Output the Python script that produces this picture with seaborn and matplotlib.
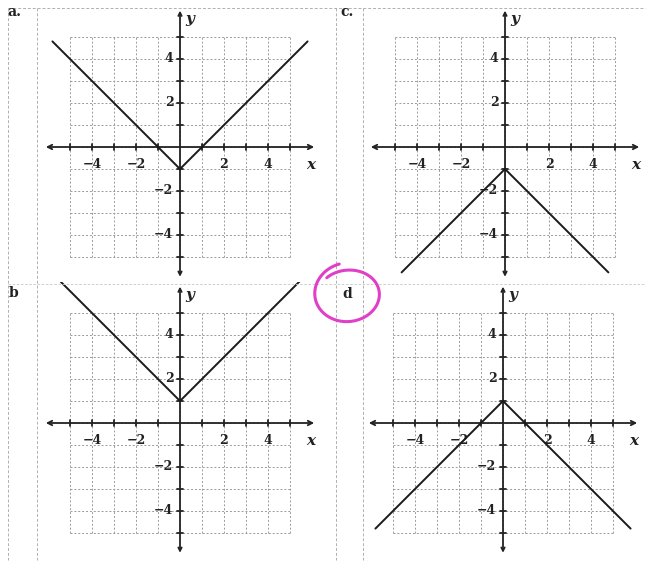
import matplotlib
matplotlib.use("Agg")
import matplotlib.pyplot as plt
import numpy as np
import pandas as pd
import seaborn as sns

sns.set_theme(style="white")
plt.rcParams['font.family'] = ['DejaVu Serif']

# V-shaped absolute value graphs, vertices and end points
x_a = [-5.8, 0, 5.8]
y_a = [4.8, -1, 4.8]      # y = |x| - 1
x_b = [-5.8, 0, 5.8]
y_b = [6.8, 1, 6.8]       # y = |x| + 1
x_c = [-4.7, 0, 4.7]
y_c = [-5.7, -1, -5.7]    # y = -|x| - 1
x_d = [-5.8, 0, 5.8]
y_d = [-4.8, 1, -4.8]     # y = -|x| + 1

tick_vals = [-4, -2, 2, 4]
tick_text = ["\u22124", "\u22122", "2", "4"]

W, H = 650, 562
U = 22  # pixels per unit

fig = plt.figure(figsize=(W / 100, H / 100), dpi=100)


def panel(box, origin, xs, ys, label, label_xy):
    x0, y0, x1, y1 = box
    ox, oy = origin
    ax = fig.add_axes([x0 / W, 1 - y1 / H, (x1 - x0) / W, (y1 - y0) / H])
    ax.set_xlim((x0 - ox) / U, (x1 - ox) / U)
    ax.set_ylim((oy - y1) / U, (oy - y0) / U)
    ax.axis('off')
    ax.patch.set_alpha(0)

    # dotted grid
    for k in range(-5, 6):
        ax.plot([k, k], [-5, 5], color='#9a9a9a', lw=0.7, ls=(0, (2, 2)), zorder=1)
        ax.plot([-5, 5], [k, k], color='#9a9a9a', lw=0.7, ls=(0, (2, 2)), zorder=1)

    # axes with arrows
    ax.annotate('', xy=(6.1, 0), xytext=(-6.1, 0),
                arrowprops=dict(arrowstyle='<->', color='#222', lw=1.3,
                                shrinkA=0, shrinkB=0, mutation_scale=8))
    ax.annotate('', xy=(0, 6.2), xytext=(0, -5.9),
                arrowprops=dict(arrowstyle='<->', color='#222', lw=1.3,
                                shrinkA=0, shrinkB=0, mutation_scale=6))
    for k in range(-5, 6):
        if k == 0:
            continue
        ax.plot([k, k], [-0.13, 0.13], color='#222', lw=1.3, zorder=3)
        ax.plot([-0.13, 0.13], [k, k], color='#222', lw=1.3, zorder=3)

    for v, t in zip(tick_vals, tick_text):
        ax.text(v, -0.8, t, ha='center', va='center', fontsize=9,
                fontweight='bold', color='#222')
        ax.text(-0.3, v, t, ha='right', va='center', fontsize=9,
                fontweight='bold', color='#222')
    ax.text(5.95, -0.8, 'x', ha='center', va='center', fontsize=11,
            style='italic', fontweight='bold', color='#222')
    ax.text(0.45, 5.8, 'y', ha='center', va='center', fontsize=11,
            style='italic', fontweight='bold', color='#222')

    df = pd.DataFrame({'x': xs, 'y': ys})
    sns.lineplot(data=df, x='x', y='y', sort=False, estimator=None,
                 color='#1a1a1a', lw=1.4, ax=ax, zorder=4)

    fig.text(label_xy[0] / W, 1 - label_xy[1] / H, label, fontsize=10,
             fontweight='bold', color='#222', ha='left', va='center')
    return ax


panel((30, 2, 325, 280), (180, 147), x_a, y_a, 'a.', (7, 12))
panel((355, 2, 650, 280), (505, 147), x_c, y_c, 'c.', (340, 12))
panel((30, 282, 325, 560), (180, 423), x_b, y_b, 'b', (9, 293))
panel((355, 282, 650, 560), (503, 423), x_d, y_d, 'd', (342, 294))

# faint frame lines from the scan
frame = fig.add_axes([0, 0, 1, 1])
frame.set_xlim(0, W)
frame.set_ylim(H, 0)
frame.axis('off')
frame.patch.set_alpha(0)
for xv in [8, 37, 336, 363]:
    frame.plot([xv, xv], [8, 560], color='#b0b0b0', lw=0.7, ls=(0, (3, 2)))
frame.plot([8, 645], [8, 8], color='#b0b0b0', lw=0.7, ls=(0, (3, 2)))
frame.plot([8, 645], [284, 284], color='#c8c8c8', lw=0.6, ls=(0, (3, 2)))

# hand-drawn pink loop around "d"
t = np.linspace(np.radians(105), np.radians(105 + 390), 200)
rx = 34 - 4 * (t - t[0]) / (t[-1] - t[0])
ry = 31 - 8 * (t - t[0]) / (t[-1] - t[0])
frame.plot(348 + rx * np.cos(t), 294 - ry * np.sin(t), color='#e040c8', lw=2.2,
           solid_capstyle='round')

fig.savefig('out.png', dpi=100)
